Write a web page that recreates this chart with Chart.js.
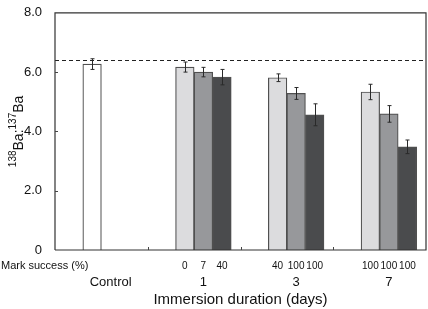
<!DOCTYPE html>
<html>
<head>
<meta charset="utf-8">
<script src="https://cdn.jsdelivr.net/npm/chart.js@4"></script>
<style>
  html, body { margin: 0; padding: 0; background: #fff; }
  #wrap { width: 428px; height: 309px; position: relative; }
</style>
</head>
<body>
<div id="wrap"><canvas id="baChart"></canvas></div>
<script>
// bar slots on the x axis (0..20), one per bar
const barSlots = [2, 7, 8, 9, 12, 13, 14, 17, 18, 19];
const ratios   = [6.27, 6.17, 6.00, 5.83, 5.81, 5.28, 4.56, 5.33, 4.59, 3.48];
const errors   = [0.18, 0.17, 0.16, 0.26, 0.13, 0.20, 0.37, 0.26, 0.28, 0.23];
const markSuccess = ['', '0', '7', '40', '40', '100', '100', '100', '100', '100'];
const groupLabels = ['Control', '1', '3', '7'];
const groupCenters = [3, 8, 13, 18];
const groupTicks = [5, 10, 15];
const shades = ['#ffffff', '#dcdcde', '#97989b', '#4a4b4d', '#dcdcde', '#97989b', '#4a4b4d', '#dcdcde', '#97989b', '#4a4b4d'];
const yTicks = [0, 2, 4, 6, 8];
const referenceLevel = 6.4;

const FONT = '"Liberation Sans", Arial, sans-serif';

const extras = {
    id: 'extras',
    afterDatasetsDraw(chart) {
        const ctx = chart.ctx;
        const x = chart.scales.x, y = chart.scales.y;
        const area = chart.chartArea;
        ctx.save();

        // error bars
        ctx.strokeStyle = '#2a2a2a';
        ctx.lineWidth = 1;
        barSlots.forEach((s, i) => {
            const px = Math.round(x.getPixelForValue(s)) + 0.5;
            const top = y.getPixelForValue(ratios[i] + errors[i]);
            const bot = y.getPixelForValue(ratios[i] - errors[i]);
            ctx.beginPath();
            ctx.moveTo(px, top); ctx.lineTo(px, bot);
            ctx.moveTo(px - 2, top); ctx.lineTo(px + 2, top);
            ctx.moveTo(px - 2, bot); ctx.lineTo(px + 2, bot);
            ctx.stroke();
        });

        // dashed reference line
        const ry = Math.round(y.getPixelForValue(referenceLevel)) + 0.5;
        ctx.setLineDash([4, 3]);
        ctx.strokeStyle = '#222';
        ctx.beginPath();
        ctx.moveTo(area.left, ry); ctx.lineTo(area.right, ry);
        ctx.stroke();
        ctx.setLineDash([]);

        // frame
        ctx.strokeStyle = '#333';
        ctx.lineWidth = 1.2;
        ctx.beginPath();
        ctx.moveTo(area.left, area.bottom);
        ctx.lineTo(area.left, area.top);
        ctx.lineTo(area.right, area.top);
        ctx.lineTo(area.right, area.bottom);
        ctx.lineTo(area.left, area.bottom);
        ctx.stroke();

        // inward ticks
        ctx.lineWidth = 1;
        ctx.strokeStyle = '#444';
        yTicks.slice(1, -1).forEach(v => {
            const py = Math.round(y.getPixelForValue(v)) + 0.5;
            ctx.beginPath(); ctx.moveTo(area.left, py); ctx.lineTo(area.left + 3, py); ctx.stroke();
        });
        groupTicks.forEach(v => {
            const px = Math.round(x.getPixelForValue(v)) + 0.5;
            ctx.beginPath(); ctx.moveTo(px, area.bottom); ctx.lineTo(px, area.bottom - 3); ctx.stroke();
        });

        // bottom texts
        ctx.fillStyle = '#111';
        ctx.textBaseline = 'middle';
        ctx.textAlign = 'left';
        ctx.font = '11px ' + FONT;
        ctx.fillText('Mark success (%)', 1, 266);
        ctx.textAlign = 'center';
        ctx.font = '10px ' + FONT;
        barSlots.forEach((s, i) => {
            if (markSuccess[i]) ctx.fillText(markSuccess[i], x.getPixelForValue(s), 266);
        });
        ctx.font = '13px ' + FONT;
        groupLabels.forEach((t, i) => ctx.fillText(t, x.getPixelForValue(groupCenters[i]), 282));
        ctx.font = '15px ' + FONT;
        ctx.fillText('Immersion duration (days)', (area.left + area.right) / 2, 300);

        // y title with superscripts
        ctx.translate(17, (area.top + area.bottom) / 2);
        ctx.rotate(-Math.PI / 2);
        const parts = [['138', true], ['Ba:', false], ['137', true], ['Ba', false]];
        const big = '14px ' + FONT, small = '10px ' + FONT;
        let w = 0;
        parts.forEach(p => { ctx.font = p[1] ? small : big; w += ctx.measureText(p[0]).width; });
        let cx = -w / 2;
        ctx.textAlign = 'left';
        parts.forEach(p => {
            ctx.font = p[1] ? small : big;
            ctx.fillText(p[0], cx, p[1] ? -4 : 2);
            cx += ctx.measureText(p[0]).width;
        });
        ctx.restore();
    }
};

new Chart(document.getElementById('baChart'), {
    type: 'bar',
    data: {
        datasets: [{
            data: barSlots.map((s, i) => ({ x: s, y: ratios[i] })),
            backgroundColor: shades,
            borderColor: '#505050',
            borderWidth: 1.2,
            barPercentage: 1,
            categoryPercentage: 1
        }]
    },
    options: {
        responsive: true,
        maintainAspectRatio: false,
        animation: false,
        layout: { padding: { top: 5, right: 2, left: 0, bottom: 0 } },
        plugins: { legend: { display: false }, tooltip: { enabled: false } },
        scales: {
            x: {
                type: 'linear',
                min: 0,
                max: 20,
                offset: false,
                grid: { display: false },
                border: { display: false },
                ticks: { display: false },
                afterFit: s => { s.height = 59; }
            },
            y: {
                min: 0,
                max: 8,
                grid: { display: false },
                border: { display: false },
                afterBuildTicks: s => { s.ticks = yTicks.map(v => ({ value: v })); },
                ticks: {
                    color: '#111',
                    font: { family: FONT, size: 13 },
                    padding: 5,
                    callback: v => v === 0 ? '0' : v.toFixed(1)
                },
                afterFit: s => { s.width = 55; }
            }
        }
    },
    plugins: [extras]
});
</script>
</body>
</html>
